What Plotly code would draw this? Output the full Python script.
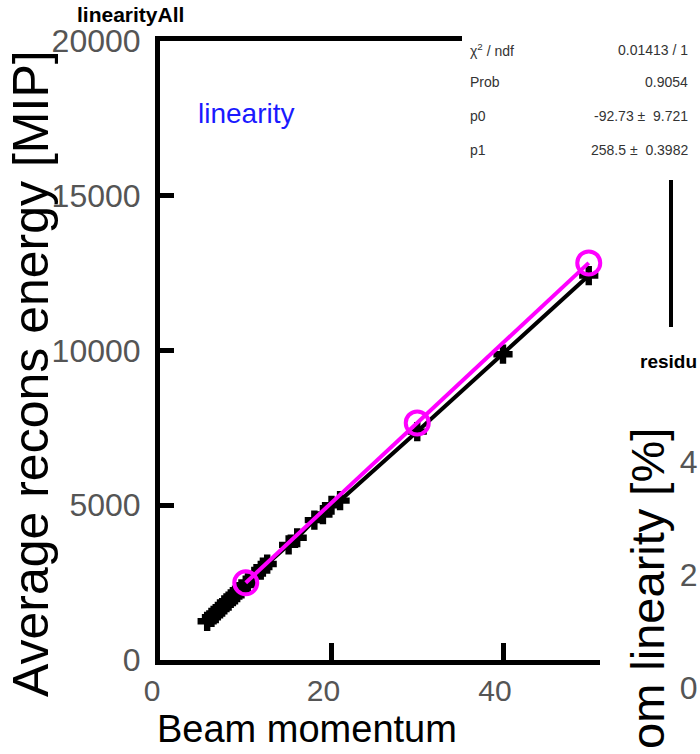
import plotly.graph_objects as go

W, H = 700, 754

# ---------------- data ----------------
black_x = [5.5, 6.0, 6.5, 7.0, 7.5, 8.0, 8.5, 9.0, 9.5, 10.0, 11.0, 12.0, 12.5,
           15.0, 16.0, 18.0, 19.0, 20.0, 21.0, 30.0, 40.0, 50.0]
black_y = [1250, 1380, 1500, 1650, 1780, 1900, 2050, 2180, 2300, 2420, 2700, 3000, 3100,
           3720, 3950, 4520, 4700, 5000, 5150, 7380, 9880, 12420]

magenta_x = [10, 30, 50]
magenta_y = [2495, 7660, 12830]

x_ticks = [0, 20, 40]
y_ticks = [0, 5000, 10000, 15000, 20000]
res_ticks = [0, 2, 4]

stats_names = ["χ<sup>2</sup> / ndf", "Prob", "p0", "p1"]
stats_values = ["0.01413 / 1", "0.9054", "-92.73 ±  9.721", "258.5 ±  0.3982"]

FONT = "Liberation Sans, Arial, sans-serif"


def X(px):
    return px / W


def Y(py):
    return 1 - py / H


fig = go.Figure()

fig.add_trace(go.Scatter(
    x=black_x, y=black_y, mode="lines+markers",
    line=dict(color="black", width=4),
    marker=dict(symbol="cross", size=16, color="black"),
    showlegend=False, cliponaxis=False,
))
fig.add_trace(go.Scatter(
    x=magenta_x, y=magenta_y, mode="lines+markers",
    line=dict(color="#ff00ff", width=4),
    marker=dict(symbol="circle-open", size=23, color="#ff00ff", line=dict(width=4, color="#ff00ff")),
    showlegend=False, cliponaxis=False,
))
# residual pad (only its tick labels are visible)
fig.add_trace(go.Scatter(x=[None], y=[None], xaxis="x2", yaxis="y2", showlegend=False))

x_lo, x_hi = 160, 600
y_top, y_bot = 41, 660
x_per_px = 20 / 171.5
fig.update_layout(
    width=W, height=H,
    margin=dict(l=0, r=0, t=0, b=0),
    paper_bgcolor="white", plot_bgcolor="white",
    xaxis=dict(
        domain=[X(x_lo), X(x_hi)],
        range=[0, (x_hi - x_lo) * x_per_px],
        tickvals=x_ticks, ticks="inside", ticklen=17, tickwidth=5, tickcolor="black",
        showline=True, linewidth=5, linecolor="black", mirror=True,
        showgrid=False, zeroline=False, automargin=False,
        tickfont=dict(family=FONT, size=30, color="#555"),
        ticklabelshift=-8,
    ),
    yaxis=dict(
        domain=[Y(y_bot), Y(y_top)],
        range=[0, 20000],
        tickvals=y_ticks, tickformat="d", ticks="inside", ticklen=14, tickwidth=5, tickcolor="black",
        showline=True, linewidth=5, linecolor="black", mirror=False,
        showgrid=False, zeroline=False, automargin=False,
        tickfont=dict(family=FONT, size=32, color="#555"),
        ticklabelstandoff=8,
    ),
    xaxis2=dict(
        domain=[0.998, 1.0], anchor="y2", showline=False, showticklabels=False,
        ticks="", showgrid=False, zeroline=False, range=[0, 1], automargin=False,
    ),
    yaxis2=dict(
        domain=[Y(744.5), Y(377.25)], anchor="x2", range=[-1, 5.5],
        tickvals=res_ticks, ticks="", showline=False, showgrid=False, zeroline=False,
        automargin=False,
        tickfont=dict(family=FONT, size=32, color="#555"),
    ),
)

shapes = [
    # stats box background
    dict(type="rect", xref="paper", yref="paper", x0=X(462), x1=X(700), y0=Y(176), y1=Y(20),
         fillcolor="white", line=dict(width=0), layer="above"),
    # frame edge of the right pad
    dict(type="line", xref="paper", yref="paper", x0=X(671), x1=X(671), y0=Y(180), y1=Y(327),
         line=dict(color="black", width=4), layer="above"),
]
fig.update_layout(shapes=shapes)

ann = []
ann.append(dict(text="<b>linearityAll</b>", x=X(75), y=Y(14), xanchor="left", yanchor="middle",
                font=dict(family=FONT, size=21, color="black")))
ann.append(dict(text="linearity", x=X(196), y=Y(113), xanchor="left", yanchor="middle",
                font=dict(family=FONT, size=28, color="#1a1aff")))
rows_y = [50, 82, 116, 150]
for nm, val, ry in zip(stats_names, stats_values, rows_y):
    ann.append(dict(text=nm, x=X(468), y=Y(ry), xanchor="left", yanchor="middle",
                    font=dict(family=FONT, size=14, color="#333")))
    ann.append(dict(text=val, x=X(690), y=Y(ry), xanchor="right", yanchor="middle",
                    font=dict(family=FONT, size=14, color="#333")))
ann.append(dict(text="Average recons energy [MIP]", textangle=-90, x=X(31), y=Y(374),
                xanchor="center", yanchor="middle",
                font=dict(family=FONT, size=50, color="black")))
ann.append(dict(text="Beam momentum", x=X(307), y=Y(729), xanchor="center", yanchor="middle",
                font=dict(family=FONT, size=38, color="black")))
ann.append(dict(text="om linearity [%]", textangle=-90, x=X(647), y=Y(589),
                xanchor="center", yanchor="middle",
                font=dict(family=FONT, size=47, color="black")))
ann.append(dict(text="<b>residu</b>", x=X(638), y=Y(362), xanchor="left", yanchor="middle",
                font=dict(family=FONT, size=19, color="black")))
for a in ann:
    a.update(xref="paper", yref="paper", showarrow=False)
fig.update_layout(annotations=ann)

fig.write_html("out.html")
